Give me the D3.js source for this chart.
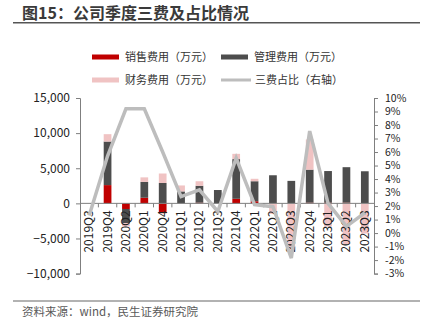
<!DOCTYPE html>
<html><head><meta charset="utf-8">
<script src="https://cdn.jsdelivr.net/npm/d3@7"></script>
<style>
html,body{margin:0;padding:0;background:#fff;}
svg text{font-family:"Noto Sans CJK SC","Noto Sans",sans-serif;}
</style></head>
<body>
<svg id="chart" width="428" height="324"></svg>
<script>
const categories = ["2019Q3","2019Q4","2020Q2","2020Q1","2020Q4","2021Q1","2021Q2","2021Q3","2021Q4","2022Q1","2022Q2","2022Q3","2022Q4","2023Q1","2023Q2","2023Q3"];
const salesFee   = [0, 2600, -800, 800, -1400, 0, 100, 0, 650, 300, 0, 0, 100, 100, 100, 0];
const adminFee   = [0, 6200, -2000, 2250, 2900, 1700, 2400, 1900, 5650, 2850, 4000, 3200, 4700, 4500, 5050, 4570];
const financeFee = [0, 1050, -500, 650, 1350, 850, 650, 0, 750, 350, -1500, -6800, 4300, -3300, -5800, -4300];
const feeRatio   = [1.3, 5.7, 9.2, 9.2, 6.0, 2.7, 3.2, 1.6, 5.55, 2.1, 1.95, -1.85, 7.55, 2.2, 0.5, 1.5];
const leftTicks  = [-10000, -5000, 0, 5000, 10000, 15000];
const rightTicks = [-3,-2,-1,0,1,2,3,4,5,6,7,8,9,10];
const seriesNames = ["销售费用（万元）","管理费用（万元）","财务费用（万元）","三费占比（右轴）"];
const colors = {sales:"#C00000", admin:"#4D4D4D", finance:"#F0C3C3", ratio:"#BDBDBD"};

const svg = d3.select("#chart");
const X0 = 80, X1 = 374, YT = 98, YB = 273.6;
const numFont = "'Liberation Sans',Arial,sans-serif";

const x = d3.scaleBand().domain(categories).range([X0, X1]).paddingInner(0.58).paddingOuter(0.29);
const step = x.step();
const yL = d3.scaleLinear().domain([-10000, 15000]).range([YB, YT]);
const yR = d3.scaleLinear().domain([-3, 10]).range([YB, YT]);

// title
svg.append("text").attr("x", 22).attr("y", 19).attr("font-size", 16).attr("font-weight", "bold")
  .attr("fill", "#3A3A3A").text("图15：公司季度三费及占比情况");
svg.append("line").attr("x1", 13).attr("x2", 420).attr("y1", 22.7).attr("y2", 22.7)
  .attr("stroke", "#555").attr("stroke-width", 1.5);

// footer
svg.append("line").attr("x1", 13).attr("x2", 420).attr("y1", 301).attr("y2", 301)
  .attr("stroke", "#666").attr("stroke-width", 1.2);
svg.append("text").attr("x", 22).attr("y", 316).attr("font-size", 11.5).attr("fill", "#595959")
  .text("资料来源：wind，民生证券研究院");

// legend
const leg = [
  {name: seriesNames[0], color: colors.sales, type: "rect", x: 92, y: 57},
  {name: seriesNames[1], color: colors.admin, type: "rect", x: 221, y: 57},
  {name: seriesNames[2], color: colors.finance, type: "rect", x: 92, y: 80},
  {name: seriesNames[3], color: colors.ratio, type: "line", x: 221, y: 80}
];
leg.forEach(l => {
  if (l.type === "rect") {
    svg.append("rect").attr("x", l.x).attr("y", l.y - 2.5).attr("width", 27).attr("height", 5).attr("fill", l.color);
  } else {
    svg.append("line").attr("x1", l.x).attr("x2", l.x + 30).attr("y1", l.y).attr("y2", l.y)
      .attr("stroke", l.color).attr("stroke-width", 3);
  }
  svg.append("text").attr("x", l.x + (l.type === "rect" ? 33 : 34)).attr("y", l.y + 4).attr("font-size", 11)
    .attr("fill", "#333").text(l.name);
});

// stacked bars
const rows = categories.map((c, i) => ({cat: c, vals: [salesFee[i], adminFee[i], financeFee[i]]}));
const cols = [colors.sales, colors.admin, colors.finance];
const gBars = svg.append("g");
rows.forEach(r => {
  let pos = 0, neg = 0;
  r.vals.forEach((v, k) => {
    if (v === 0) return;
    let a, b;
    if (v > 0) { a = pos; b = pos + v; pos = b; } else { a = neg; b = neg + v; neg = b; }
    gBars.append("rect").attr("x", x(r.cat)).attr("width", x.bandwidth())
      .attr("y", Math.min(yL(a), yL(b))).attr("height", Math.abs(yL(a) - yL(b)))
      .attr("fill", cols[k]);
  });
});

// x axis at zero
const y0 = yL(0);
svg.append("line").attr("x1", X0).attr("x2", X1).attr("y1", y0).attr("y2", y0).attr("stroke", "#7F7F7F").attr("stroke-width", 1);
categories.forEach((c, i) => {
  const bx = x(c) - x.paddingOuter() * step;
  if (i > 0) svg.append("line").attr("x1", bx).attr("x2", bx).attr("y1", y0).attr("y2", y0 + 4).attr("stroke", "#7F7F7F");
});
categories.forEach(c => {
  const cx = x(c) + x.bandwidth() / 2;
  svg.append("text").attr("transform", `translate(${cx + 4},${y0 + 7}) rotate(-90)`)
    .attr("text-anchor", "end").attr("font-size", 12).attr("font-family", numFont).attr("fill", "#222").text(c);
});

// left axis
const axL = d3.axisLeft(yL).tickValues(leftTicks).tickSize(4).tickPadding(6).tickFormat(d3.format(","));
const gL = svg.append("g").attr("transform", `translate(${X0},0)`).call(axL);
gL.select(".domain").attr("stroke", "#7F7F7F");
gL.selectAll(".tick line").attr("stroke", "#7F7F7F");
gL.selectAll("text").attr("font-size", 12).attr("fill", "#222").attr("font-family", numFont);

// right axis
const axR = d3.axisRight(yR).tickValues(rightTicks).tickSize(4).tickPadding(7).tickFormat(d => d + "%");
const gR = svg.append("g").attr("transform", `translate(${X1},0)`).call(axR);
gR.select(".domain").attr("stroke", "#7F7F7F");
gR.selectAll(".tick line").attr("stroke", "#7F7F7F");
gR.selectAll("text").attr("font-size", 10.5).attr("fill", "#222").attr("font-family", numFont);

// ratio line
const line = d3.line().x((d, i) => x(categories[i]) + x.bandwidth() / 2).y(d => yR(d));
svg.append("path").datum(feeRatio).attr("d", line).attr("fill", "none")
  .attr("stroke", colors.ratio).attr("stroke-width", 3.5).attr("stroke-linejoin", "miter");
</script>
</body></html>
